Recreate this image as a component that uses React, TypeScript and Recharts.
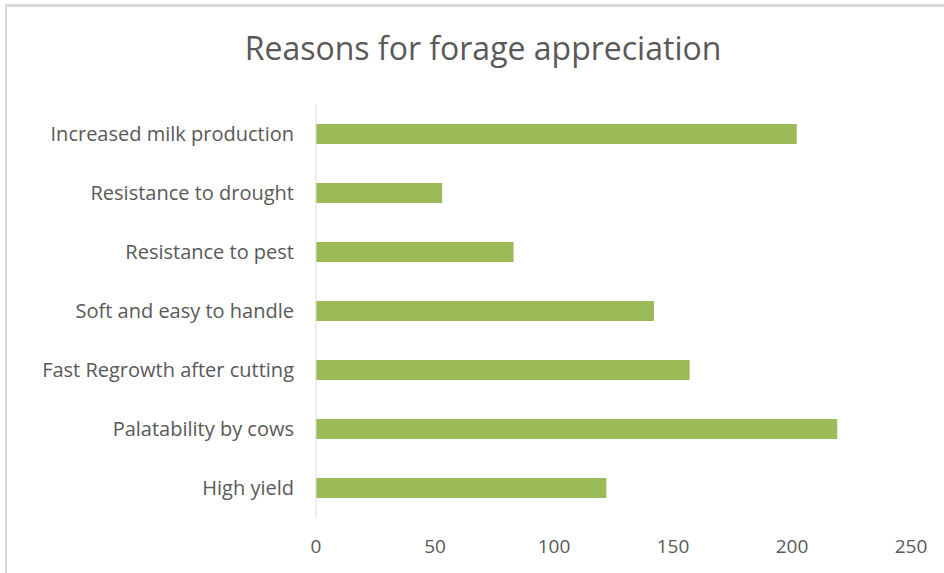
import { BarChart, Bar, XAxis, YAxis } from "recharts";

const reasons = [
  "Increased milk production",
  "Resistance to drought",
  "Resistance to pest",
  "Soft and easy to handle",
  "Fast Regrowth after cutting",
  "Palatability by cows",
  "High yield",
];
const counts = [202, 53, 83, 142, 157, 219, 122];
const xTicks = [0, 50, 100, 150, 200, 250];

const data = reasons.map((reason, i) => ({ reason, count: counts[i] }));

const font = "'Open Sans', 'Noto Sans', sans-serif";
const textColor = "#595959";

export default function App() {
  return (
    <div
      style={{
        position: "absolute",
        left: 0,
        top: 0,
        width: 944,
        height: 573,
        background: "#fff",
        fontFamily: font,
      }}
    >
      <div
        style={{
          position: "absolute",
          left: 5,
          top: 4,
          right: 0,
          bottom: 0,
          borderLeft: "2px solid #d9d9d9",
          borderTop: "3px solid #d9d9d9",
        }}
      />
      <div
        style={{
          position: "absolute",
          left: 0,
          width: 966,
          top: 26,
          textAlign: "center",
          fontSize: 32,
          color: textColor,
        }}
      >
        Reasons for forage appreciation
      </div>
      <div style={{ position: "absolute", left: 0, top: 0 }}>
        <BarChart
          width={944}
          height={573}
          layout="vertical"
          data={data}
          margin={{ top: 104, right: 33, left: 0, bottom: 0 }}
          barCategoryGap={19}
        >
          <XAxis
            type="number"
            domain={[0, 250]}
            ticks={xTicks}
            axisLine={false}
            tickLine={false}
            height={56}
            tickMargin={17}
            tick={{ fill: textColor, fontSize: 19, fontFamily: font }}
          />
          <YAxis
            type="category"
            dataKey="reason"
            width={316}
            axisLine={{ stroke: "#d9d9d9" }}
            tickLine={false}
            tickMargin={16}
            tick={{ fill: textColor, fontSize: 20, fontFamily: font }}
          />
          <Bar dataKey="count" fill="#9bbb59" barSize={20} isAnimationActive={false} />
        </BarChart>
      </div>
    </div>
  );
}
